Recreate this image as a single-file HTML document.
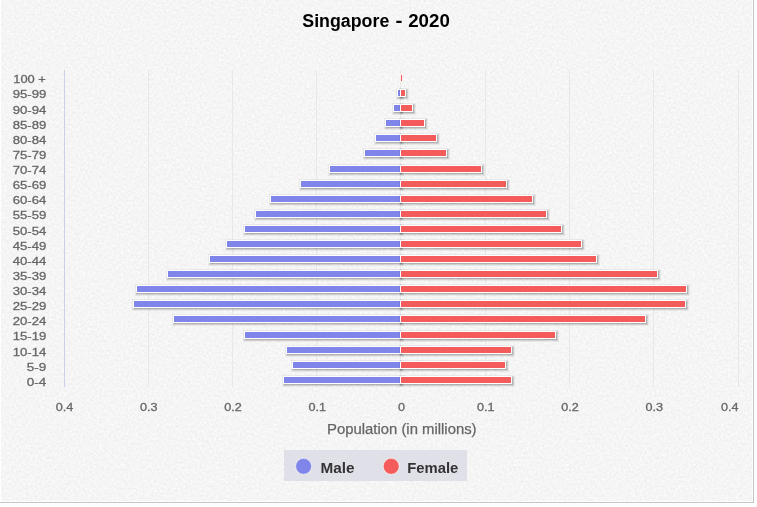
<!DOCTYPE html>
<html><head><meta charset="utf-8"><title>Singapore - 2020</title>
<style>
html,body{margin:0;padding:0;background:#fff;}
body{width:757px;height:507px;overflow:hidden;position:relative;}
#wrap{position:absolute;left:0;top:0;width:753px;height:502px;background:#fff;border-right:1px solid #c4c4c4;border-bottom:1px solid #c4c4c4;}
#chart{position:absolute;left:1px;top:0;width:751px;height:501px;background:#f5f5f5;}
svg{position:absolute;left:0;top:0;}
text{font-family:"Liberation Sans",sans-serif;}
.lab{font-size:11.7px;fill:#666;stroke:#666;stroke-width:0.3px;}
.ttl{font-size:18px;font-weight:bold;fill:#000;}
.axt{font-size:14.7px;fill:#666;stroke:#666;stroke-width:0.25px;}
.leg{font-size:14.7px;font-weight:bold;fill:#333;}
</style></head><body>
<div id="wrap"><div id="chart"></div></div>
<svg width="757" height="507" viewBox="0 0 757 507">

<defs><filter id="sand" x="0" y="0" width="100%" height="100%" color-interpolation-filters="sRGB"><feTurbulence type="fractalNoise" baseFrequency="0.42" numOctaves="2" seed="7" result="n"/><feColorMatrix in="n" type="matrix" values="0.085 0 0 0 0.918  0.085 0 0 0 0.918  0.085 0 0 0 0.918  0 0 0 0 1"/></filter></defs>
<rect x="1" y="0" width="751" height="501" fill="#f5f5f5" filter="url(#sand)"/>
<path d="M64.5 70V387" stroke="#e8e8e8" stroke-width="1" fill="none"/>
<path d="M148.5 70V387" stroke="#e8e8e8" stroke-width="1" fill="none"/>
<path d="M232.5 70V387" stroke="#e8e8e8" stroke-width="1" fill="none"/>
<path d="M316.5 70V387" stroke="#e8e8e8" stroke-width="1" fill="none"/>
<path d="M400.5 70V387" stroke="#e8e8e8" stroke-width="1" fill="none"/>
<path d="M485.5 70V387" stroke="#e8e8e8" stroke-width="1" fill="none"/>
<path d="M569.5 70V387" stroke="#e8e8e8" stroke-width="1" fill="none"/>
<path d="M653.5 70V387" stroke="#e8e8e8" stroke-width="1" fill="none"/>
<path d="M738.5 70V387" stroke="#e8e8e8" stroke-width="1" fill="none"/>
<path d="M64.5 70V387" stroke="#ccd0e6" stroke-width="1" fill="none"/>
<g>
<rect x="397.5" y="89.5" width="3" height="7" fill="none" stroke="#000" stroke-opacity="0.05" stroke-width="5" transform="translate(1,1)"/><rect x="397.5" y="89.5" width="3" height="7" fill="none" stroke="#000" stroke-opacity="0.1" stroke-width="3" transform="translate(1,1)"/><rect x="397.5" y="89.5" width="3" height="7" fill="none" stroke="#000" stroke-opacity="0.15" stroke-width="1" transform="translate(1,1)"/><rect x="397.5" y="89.5" width="3" height="7" fill="#8085e9" stroke="#fff" stroke-width="1"/>
<rect x="393.5" y="104.5" width="7" height="7" fill="none" stroke="#000" stroke-opacity="0.05" stroke-width="5" transform="translate(1,1)"/><rect x="393.5" y="104.5" width="7" height="7" fill="none" stroke="#000" stroke-opacity="0.1" stroke-width="3" transform="translate(1,1)"/><rect x="393.5" y="104.5" width="7" height="7" fill="none" stroke="#000" stroke-opacity="0.15" stroke-width="1" transform="translate(1,1)"/><rect x="393.5" y="104.5" width="7" height="7" fill="#8085e9" stroke="#fff" stroke-width="1"/>
<rect x="385.5" y="119.5" width="15" height="7" fill="none" stroke="#000" stroke-opacity="0.05" stroke-width="5" transform="translate(1,1)"/><rect x="385.5" y="119.5" width="15" height="7" fill="none" stroke="#000" stroke-opacity="0.1" stroke-width="3" transform="translate(1,1)"/><rect x="385.5" y="119.5" width="15" height="7" fill="none" stroke="#000" stroke-opacity="0.15" stroke-width="1" transform="translate(1,1)"/><rect x="385.5" y="119.5" width="15" height="7" fill="#8085e9" stroke="#fff" stroke-width="1"/>
<rect x="375.5" y="134.5" width="25" height="7" fill="none" stroke="#000" stroke-opacity="0.05" stroke-width="5" transform="translate(1,1)"/><rect x="375.5" y="134.5" width="25" height="7" fill="none" stroke="#000" stroke-opacity="0.1" stroke-width="3" transform="translate(1,1)"/><rect x="375.5" y="134.5" width="25" height="7" fill="none" stroke="#000" stroke-opacity="0.15" stroke-width="1" transform="translate(1,1)"/><rect x="375.5" y="134.5" width="25" height="7" fill="#8085e9" stroke="#fff" stroke-width="1"/>
<rect x="364.5" y="149.5" width="36" height="7" fill="none" stroke="#000" stroke-opacity="0.05" stroke-width="5" transform="translate(1,1)"/><rect x="364.5" y="149.5" width="36" height="7" fill="none" stroke="#000" stroke-opacity="0.1" stroke-width="3" transform="translate(1,1)"/><rect x="364.5" y="149.5" width="36" height="7" fill="none" stroke="#000" stroke-opacity="0.15" stroke-width="1" transform="translate(1,1)"/><rect x="364.5" y="149.5" width="36" height="7" fill="#8085e9" stroke="#fff" stroke-width="1"/>
<rect x="329.5" y="165.5" width="71" height="7" fill="none" stroke="#000" stroke-opacity="0.05" stroke-width="5" transform="translate(1,1)"/><rect x="329.5" y="165.5" width="71" height="7" fill="none" stroke="#000" stroke-opacity="0.1" stroke-width="3" transform="translate(1,1)"/><rect x="329.5" y="165.5" width="71" height="7" fill="none" stroke="#000" stroke-opacity="0.15" stroke-width="1" transform="translate(1,1)"/><rect x="329.5" y="165.5" width="71" height="7" fill="#8085e9" stroke="#fff" stroke-width="1"/>
<rect x="300.5" y="180.5" width="100" height="7" fill="none" stroke="#000" stroke-opacity="0.05" stroke-width="5" transform="translate(1,1)"/><rect x="300.5" y="180.5" width="100" height="7" fill="none" stroke="#000" stroke-opacity="0.1" stroke-width="3" transform="translate(1,1)"/><rect x="300.5" y="180.5" width="100" height="7" fill="none" stroke="#000" stroke-opacity="0.15" stroke-width="1" transform="translate(1,1)"/><rect x="300.5" y="180.5" width="100" height="7" fill="#8085e9" stroke="#fff" stroke-width="1"/>
<rect x="270.5" y="195.5" width="130" height="7" fill="none" stroke="#000" stroke-opacity="0.05" stroke-width="5" transform="translate(1,1)"/><rect x="270.5" y="195.5" width="130" height="7" fill="none" stroke="#000" stroke-opacity="0.1" stroke-width="3" transform="translate(1,1)"/><rect x="270.5" y="195.5" width="130" height="7" fill="none" stroke="#000" stroke-opacity="0.15" stroke-width="1" transform="translate(1,1)"/><rect x="270.5" y="195.5" width="130" height="7" fill="#8085e9" stroke="#fff" stroke-width="1"/>
<rect x="255.5" y="210.5" width="145" height="7" fill="none" stroke="#000" stroke-opacity="0.05" stroke-width="5" transform="translate(1,1)"/><rect x="255.5" y="210.5" width="145" height="7" fill="none" stroke="#000" stroke-opacity="0.1" stroke-width="3" transform="translate(1,1)"/><rect x="255.5" y="210.5" width="145" height="7" fill="none" stroke="#000" stroke-opacity="0.15" stroke-width="1" transform="translate(1,1)"/><rect x="255.5" y="210.5" width="145" height="7" fill="#8085e9" stroke="#fff" stroke-width="1"/>
<rect x="244.5" y="225.5" width="156" height="7" fill="none" stroke="#000" stroke-opacity="0.05" stroke-width="5" transform="translate(1,1)"/><rect x="244.5" y="225.5" width="156" height="7" fill="none" stroke="#000" stroke-opacity="0.1" stroke-width="3" transform="translate(1,1)"/><rect x="244.5" y="225.5" width="156" height="7" fill="none" stroke="#000" stroke-opacity="0.15" stroke-width="1" transform="translate(1,1)"/><rect x="244.5" y="225.5" width="156" height="7" fill="#8085e9" stroke="#fff" stroke-width="1"/>
<rect x="226.5" y="240.5" width="174" height="7" fill="none" stroke="#000" stroke-opacity="0.05" stroke-width="5" transform="translate(1,1)"/><rect x="226.5" y="240.5" width="174" height="7" fill="none" stroke="#000" stroke-opacity="0.1" stroke-width="3" transform="translate(1,1)"/><rect x="226.5" y="240.5" width="174" height="7" fill="none" stroke="#000" stroke-opacity="0.15" stroke-width="1" transform="translate(1,1)"/><rect x="226.5" y="240.5" width="174" height="7" fill="#8085e9" stroke="#fff" stroke-width="1"/>
<rect x="209.5" y="255.5" width="191" height="7" fill="none" stroke="#000" stroke-opacity="0.05" stroke-width="5" transform="translate(1,1)"/><rect x="209.5" y="255.5" width="191" height="7" fill="none" stroke="#000" stroke-opacity="0.1" stroke-width="3" transform="translate(1,1)"/><rect x="209.5" y="255.5" width="191" height="7" fill="none" stroke="#000" stroke-opacity="0.15" stroke-width="1" transform="translate(1,1)"/><rect x="209.5" y="255.5" width="191" height="7" fill="#8085e9" stroke="#fff" stroke-width="1"/>
<rect x="167.5" y="270.5" width="233" height="7" fill="none" stroke="#000" stroke-opacity="0.05" stroke-width="5" transform="translate(1,1)"/><rect x="167.5" y="270.5" width="233" height="7" fill="none" stroke="#000" stroke-opacity="0.1" stroke-width="3" transform="translate(1,1)"/><rect x="167.5" y="270.5" width="233" height="7" fill="none" stroke="#000" stroke-opacity="0.15" stroke-width="1" transform="translate(1,1)"/><rect x="167.5" y="270.5" width="233" height="7" fill="#8085e9" stroke="#fff" stroke-width="1"/>
<rect x="136.5" y="285.5" width="264" height="7" fill="none" stroke="#000" stroke-opacity="0.05" stroke-width="5" transform="translate(1,1)"/><rect x="136.5" y="285.5" width="264" height="7" fill="none" stroke="#000" stroke-opacity="0.1" stroke-width="3" transform="translate(1,1)"/><rect x="136.5" y="285.5" width="264" height="7" fill="none" stroke="#000" stroke-opacity="0.15" stroke-width="1" transform="translate(1,1)"/><rect x="136.5" y="285.5" width="264" height="7" fill="#8085e9" stroke="#fff" stroke-width="1"/>
<rect x="133.5" y="300.5" width="267" height="7" fill="none" stroke="#000" stroke-opacity="0.05" stroke-width="5" transform="translate(1,1)"/><rect x="133.5" y="300.5" width="267" height="7" fill="none" stroke="#000" stroke-opacity="0.1" stroke-width="3" transform="translate(1,1)"/><rect x="133.5" y="300.5" width="267" height="7" fill="none" stroke="#000" stroke-opacity="0.15" stroke-width="1" transform="translate(1,1)"/><rect x="133.5" y="300.5" width="267" height="7" fill="#8085e9" stroke="#fff" stroke-width="1"/>
<rect x="173.5" y="315.5" width="227" height="7" fill="none" stroke="#000" stroke-opacity="0.05" stroke-width="5" transform="translate(1,1)"/><rect x="173.5" y="315.5" width="227" height="7" fill="none" stroke="#000" stroke-opacity="0.1" stroke-width="3" transform="translate(1,1)"/><rect x="173.5" y="315.5" width="227" height="7" fill="none" stroke="#000" stroke-opacity="0.15" stroke-width="1" transform="translate(1,1)"/><rect x="173.5" y="315.5" width="227" height="7" fill="#8085e9" stroke="#fff" stroke-width="1"/>
<rect x="244.5" y="331.5" width="156" height="7" fill="none" stroke="#000" stroke-opacity="0.05" stroke-width="5" transform="translate(1,1)"/><rect x="244.5" y="331.5" width="156" height="7" fill="none" stroke="#000" stroke-opacity="0.1" stroke-width="3" transform="translate(1,1)"/><rect x="244.5" y="331.5" width="156" height="7" fill="none" stroke="#000" stroke-opacity="0.15" stroke-width="1" transform="translate(1,1)"/><rect x="244.5" y="331.5" width="156" height="7" fill="#8085e9" stroke="#fff" stroke-width="1"/>
<rect x="286.5" y="346.5" width="114" height="7" fill="none" stroke="#000" stroke-opacity="0.05" stroke-width="5" transform="translate(1,1)"/><rect x="286.5" y="346.5" width="114" height="7" fill="none" stroke="#000" stroke-opacity="0.1" stroke-width="3" transform="translate(1,1)"/><rect x="286.5" y="346.5" width="114" height="7" fill="none" stroke="#000" stroke-opacity="0.15" stroke-width="1" transform="translate(1,1)"/><rect x="286.5" y="346.5" width="114" height="7" fill="#8085e9" stroke="#fff" stroke-width="1"/>
<rect x="292.5" y="361.5" width="108" height="7" fill="none" stroke="#000" stroke-opacity="0.05" stroke-width="5" transform="translate(1,1)"/><rect x="292.5" y="361.5" width="108" height="7" fill="none" stroke="#000" stroke-opacity="0.1" stroke-width="3" transform="translate(1,1)"/><rect x="292.5" y="361.5" width="108" height="7" fill="none" stroke="#000" stroke-opacity="0.15" stroke-width="1" transform="translate(1,1)"/><rect x="292.5" y="361.5" width="108" height="7" fill="#8085e9" stroke="#fff" stroke-width="1"/>
<rect x="283.5" y="376.5" width="117" height="7" fill="none" stroke="#000" stroke-opacity="0.05" stroke-width="5" transform="translate(1,1)"/><rect x="283.5" y="376.5" width="117" height="7" fill="none" stroke="#000" stroke-opacity="0.1" stroke-width="3" transform="translate(1,1)"/><rect x="283.5" y="376.5" width="117" height="7" fill="none" stroke="#000" stroke-opacity="0.15" stroke-width="1" transform="translate(1,1)"/><rect x="283.5" y="376.5" width="117" height="7" fill="#8085e9" stroke="#fff" stroke-width="1"/>
</g><g>
<rect x="400.5" y="74.5" width="2" height="7" fill="#f45b5b" stroke="#fff" stroke-width="1" stroke-opacity="0.8"/>
<rect x="400.5" y="89.5" width="5" height="7" fill="none" stroke="#000" stroke-opacity="0.05" stroke-width="5" transform="translate(1,1)"/><rect x="400.5" y="89.5" width="5" height="7" fill="none" stroke="#000" stroke-opacity="0.1" stroke-width="3" transform="translate(1,1)"/><rect x="400.5" y="89.5" width="5" height="7" fill="none" stroke="#000" stroke-opacity="0.15" stroke-width="1" transform="translate(1,1)"/><rect x="400.5" y="89.5" width="5" height="7" fill="#f45b5b" stroke="#fff" stroke-width="1"/>
<rect x="400.5" y="104.5" width="12" height="7" fill="none" stroke="#000" stroke-opacity="0.05" stroke-width="5" transform="translate(1,1)"/><rect x="400.5" y="104.5" width="12" height="7" fill="none" stroke="#000" stroke-opacity="0.1" stroke-width="3" transform="translate(1,1)"/><rect x="400.5" y="104.5" width="12" height="7" fill="none" stroke="#000" stroke-opacity="0.15" stroke-width="1" transform="translate(1,1)"/><rect x="400.5" y="104.5" width="12" height="7" fill="#f45b5b" stroke="#fff" stroke-width="1"/>
<rect x="400.5" y="119.5" width="24" height="7" fill="none" stroke="#000" stroke-opacity="0.05" stroke-width="5" transform="translate(1,1)"/><rect x="400.5" y="119.5" width="24" height="7" fill="none" stroke="#000" stroke-opacity="0.1" stroke-width="3" transform="translate(1,1)"/><rect x="400.5" y="119.5" width="24" height="7" fill="none" stroke="#000" stroke-opacity="0.15" stroke-width="1" transform="translate(1,1)"/><rect x="400.5" y="119.5" width="24" height="7" fill="#f45b5b" stroke="#fff" stroke-width="1"/>
<rect x="400.5" y="134.5" width="36" height="7" fill="none" stroke="#000" stroke-opacity="0.05" stroke-width="5" transform="translate(1,1)"/><rect x="400.5" y="134.5" width="36" height="7" fill="none" stroke="#000" stroke-opacity="0.1" stroke-width="3" transform="translate(1,1)"/><rect x="400.5" y="134.5" width="36" height="7" fill="none" stroke="#000" stroke-opacity="0.15" stroke-width="1" transform="translate(1,1)"/><rect x="400.5" y="134.5" width="36" height="7" fill="#f45b5b" stroke="#fff" stroke-width="1"/>
<rect x="400.5" y="149.5" width="46" height="7" fill="none" stroke="#000" stroke-opacity="0.05" stroke-width="5" transform="translate(1,1)"/><rect x="400.5" y="149.5" width="46" height="7" fill="none" stroke="#000" stroke-opacity="0.1" stroke-width="3" transform="translate(1,1)"/><rect x="400.5" y="149.5" width="46" height="7" fill="none" stroke="#000" stroke-opacity="0.15" stroke-width="1" transform="translate(1,1)"/><rect x="400.5" y="149.5" width="46" height="7" fill="#f45b5b" stroke="#fff" stroke-width="1"/>
<rect x="400.5" y="165.5" width="81" height="7" fill="none" stroke="#000" stroke-opacity="0.05" stroke-width="5" transform="translate(1,1)"/><rect x="400.5" y="165.5" width="81" height="7" fill="none" stroke="#000" stroke-opacity="0.1" stroke-width="3" transform="translate(1,1)"/><rect x="400.5" y="165.5" width="81" height="7" fill="none" stroke="#000" stroke-opacity="0.15" stroke-width="1" transform="translate(1,1)"/><rect x="400.5" y="165.5" width="81" height="7" fill="#f45b5b" stroke="#fff" stroke-width="1"/>
<rect x="400.5" y="180.5" width="106" height="7" fill="none" stroke="#000" stroke-opacity="0.05" stroke-width="5" transform="translate(1,1)"/><rect x="400.5" y="180.5" width="106" height="7" fill="none" stroke="#000" stroke-opacity="0.1" stroke-width="3" transform="translate(1,1)"/><rect x="400.5" y="180.5" width="106" height="7" fill="none" stroke="#000" stroke-opacity="0.15" stroke-width="1" transform="translate(1,1)"/><rect x="400.5" y="180.5" width="106" height="7" fill="#f45b5b" stroke="#fff" stroke-width="1"/>
<rect x="400.5" y="195.5" width="132" height="7" fill="none" stroke="#000" stroke-opacity="0.05" stroke-width="5" transform="translate(1,1)"/><rect x="400.5" y="195.5" width="132" height="7" fill="none" stroke="#000" stroke-opacity="0.1" stroke-width="3" transform="translate(1,1)"/><rect x="400.5" y="195.5" width="132" height="7" fill="none" stroke="#000" stroke-opacity="0.15" stroke-width="1" transform="translate(1,1)"/><rect x="400.5" y="195.5" width="132" height="7" fill="#f45b5b" stroke="#fff" stroke-width="1"/>
<rect x="400.5" y="210.5" width="146" height="7" fill="none" stroke="#000" stroke-opacity="0.05" stroke-width="5" transform="translate(1,1)"/><rect x="400.5" y="210.5" width="146" height="7" fill="none" stroke="#000" stroke-opacity="0.1" stroke-width="3" transform="translate(1,1)"/><rect x="400.5" y="210.5" width="146" height="7" fill="none" stroke="#000" stroke-opacity="0.15" stroke-width="1" transform="translate(1,1)"/><rect x="400.5" y="210.5" width="146" height="7" fill="#f45b5b" stroke="#fff" stroke-width="1"/>
<rect x="400.5" y="225.5" width="161" height="7" fill="none" stroke="#000" stroke-opacity="0.05" stroke-width="5" transform="translate(1,1)"/><rect x="400.5" y="225.5" width="161" height="7" fill="none" stroke="#000" stroke-opacity="0.1" stroke-width="3" transform="translate(1,1)"/><rect x="400.5" y="225.5" width="161" height="7" fill="none" stroke="#000" stroke-opacity="0.15" stroke-width="1" transform="translate(1,1)"/><rect x="400.5" y="225.5" width="161" height="7" fill="#f45b5b" stroke="#fff" stroke-width="1"/>
<rect x="400.5" y="240.5" width="181" height="7" fill="none" stroke="#000" stroke-opacity="0.05" stroke-width="5" transform="translate(1,1)"/><rect x="400.5" y="240.5" width="181" height="7" fill="none" stroke="#000" stroke-opacity="0.1" stroke-width="3" transform="translate(1,1)"/><rect x="400.5" y="240.5" width="181" height="7" fill="none" stroke="#000" stroke-opacity="0.15" stroke-width="1" transform="translate(1,1)"/><rect x="400.5" y="240.5" width="181" height="7" fill="#f45b5b" stroke="#fff" stroke-width="1"/>
<rect x="400.5" y="255.5" width="196" height="7" fill="none" stroke="#000" stroke-opacity="0.05" stroke-width="5" transform="translate(1,1)"/><rect x="400.5" y="255.5" width="196" height="7" fill="none" stroke="#000" stroke-opacity="0.1" stroke-width="3" transform="translate(1,1)"/><rect x="400.5" y="255.5" width="196" height="7" fill="none" stroke="#000" stroke-opacity="0.15" stroke-width="1" transform="translate(1,1)"/><rect x="400.5" y="255.5" width="196" height="7" fill="#f45b5b" stroke="#fff" stroke-width="1"/>
<rect x="400.5" y="270.5" width="257" height="7" fill="none" stroke="#000" stroke-opacity="0.05" stroke-width="5" transform="translate(1,1)"/><rect x="400.5" y="270.5" width="257" height="7" fill="none" stroke="#000" stroke-opacity="0.1" stroke-width="3" transform="translate(1,1)"/><rect x="400.5" y="270.5" width="257" height="7" fill="none" stroke="#000" stroke-opacity="0.15" stroke-width="1" transform="translate(1,1)"/><rect x="400.5" y="270.5" width="257" height="7" fill="#f45b5b" stroke="#fff" stroke-width="1"/>
<rect x="400.5" y="285.5" width="286" height="7" fill="none" stroke="#000" stroke-opacity="0.05" stroke-width="5" transform="translate(1,1)"/><rect x="400.5" y="285.5" width="286" height="7" fill="none" stroke="#000" stroke-opacity="0.1" stroke-width="3" transform="translate(1,1)"/><rect x="400.5" y="285.5" width="286" height="7" fill="none" stroke="#000" stroke-opacity="0.15" stroke-width="1" transform="translate(1,1)"/><rect x="400.5" y="285.5" width="286" height="7" fill="#f45b5b" stroke="#fff" stroke-width="1"/>
<rect x="400.5" y="300.5" width="285" height="7" fill="none" stroke="#000" stroke-opacity="0.05" stroke-width="5" transform="translate(1,1)"/><rect x="400.5" y="300.5" width="285" height="7" fill="none" stroke="#000" stroke-opacity="0.1" stroke-width="3" transform="translate(1,1)"/><rect x="400.5" y="300.5" width="285" height="7" fill="none" stroke="#000" stroke-opacity="0.15" stroke-width="1" transform="translate(1,1)"/><rect x="400.5" y="300.5" width="285" height="7" fill="#f45b5b" stroke="#fff" stroke-width="1"/>
<rect x="400.5" y="315.5" width="245" height="7" fill="none" stroke="#000" stroke-opacity="0.05" stroke-width="5" transform="translate(1,1)"/><rect x="400.5" y="315.5" width="245" height="7" fill="none" stroke="#000" stroke-opacity="0.1" stroke-width="3" transform="translate(1,1)"/><rect x="400.5" y="315.5" width="245" height="7" fill="none" stroke="#000" stroke-opacity="0.15" stroke-width="1" transform="translate(1,1)"/><rect x="400.5" y="315.5" width="245" height="7" fill="#f45b5b" stroke="#fff" stroke-width="1"/>
<rect x="400.5" y="331.5" width="155" height="7" fill="none" stroke="#000" stroke-opacity="0.05" stroke-width="5" transform="translate(1,1)"/><rect x="400.5" y="331.5" width="155" height="7" fill="none" stroke="#000" stroke-opacity="0.1" stroke-width="3" transform="translate(1,1)"/><rect x="400.5" y="331.5" width="155" height="7" fill="none" stroke="#000" stroke-opacity="0.15" stroke-width="1" transform="translate(1,1)"/><rect x="400.5" y="331.5" width="155" height="7" fill="#f45b5b" stroke="#fff" stroke-width="1"/>
<rect x="400.5" y="346.5" width="111" height="7" fill="none" stroke="#000" stroke-opacity="0.05" stroke-width="5" transform="translate(1,1)"/><rect x="400.5" y="346.5" width="111" height="7" fill="none" stroke="#000" stroke-opacity="0.1" stroke-width="3" transform="translate(1,1)"/><rect x="400.5" y="346.5" width="111" height="7" fill="none" stroke="#000" stroke-opacity="0.15" stroke-width="1" transform="translate(1,1)"/><rect x="400.5" y="346.5" width="111" height="7" fill="#f45b5b" stroke="#fff" stroke-width="1"/>
<rect x="400.5" y="361.5" width="105" height="7" fill="none" stroke="#000" stroke-opacity="0.05" stroke-width="5" transform="translate(1,1)"/><rect x="400.5" y="361.5" width="105" height="7" fill="none" stroke="#000" stroke-opacity="0.1" stroke-width="3" transform="translate(1,1)"/><rect x="400.5" y="361.5" width="105" height="7" fill="none" stroke="#000" stroke-opacity="0.15" stroke-width="1" transform="translate(1,1)"/><rect x="400.5" y="361.5" width="105" height="7" fill="#f45b5b" stroke="#fff" stroke-width="1"/>
<rect x="400.5" y="376.5" width="111" height="7" fill="none" stroke="#000" stroke-opacity="0.05" stroke-width="5" transform="translate(1,1)"/><rect x="400.5" y="376.5" width="111" height="7" fill="none" stroke="#000" stroke-opacity="0.1" stroke-width="3" transform="translate(1,1)"/><rect x="400.5" y="376.5" width="111" height="7" fill="none" stroke="#000" stroke-opacity="0.15" stroke-width="1" transform="translate(1,1)"/><rect x="400.5" y="376.5" width="111" height="7" fill="#f45b5b" stroke="#fff" stroke-width="1"/>
</g>
<text class="lab" text-anchor="end" transform="translate(45.8,83.2) scale(1.1,1)">100 +</text>
<text class="lab" text-anchor="end" transform="translate(46.3,98.3) scale(1.125,1)">95-99</text>
<text class="lab" text-anchor="end" transform="translate(46.3,113.5) scale(1.125,1)">90-94</text>
<text class="lab" text-anchor="end" transform="translate(46.3,128.6) scale(1.125,1)">85-89</text>
<text class="lab" text-anchor="end" transform="translate(46.3,143.7) scale(1.125,1)">80-84</text>
<text class="lab" text-anchor="end" transform="translate(46.3,158.9) scale(1.125,1)">75-79</text>
<text class="lab" text-anchor="end" transform="translate(46.3,174.0) scale(1.125,1)">70-74</text>
<text class="lab" text-anchor="end" transform="translate(46.3,189.1) scale(1.125,1)">65-69</text>
<text class="lab" text-anchor="end" transform="translate(46.3,204.2) scale(1.125,1)">60-64</text>
<text class="lab" text-anchor="end" transform="translate(46.3,219.4) scale(1.125,1)">55-59</text>
<text class="lab" text-anchor="end" transform="translate(46.3,234.5) scale(1.125,1)">50-54</text>
<text class="lab" text-anchor="end" transform="translate(46.3,249.6) scale(1.125,1)">45-49</text>
<text class="lab" text-anchor="end" transform="translate(46.3,264.8) scale(1.125,1)">40-44</text>
<text class="lab" text-anchor="end" transform="translate(46.3,279.9) scale(1.125,1)">35-39</text>
<text class="lab" text-anchor="end" transform="translate(46.3,295.0) scale(1.125,1)">30-34</text>
<text class="lab" text-anchor="end" transform="translate(46.3,310.2) scale(1.125,1)">25-29</text>
<text class="lab" text-anchor="end" transform="translate(46.3,325.3) scale(1.125,1)">20-24</text>
<text class="lab" text-anchor="end" transform="translate(46.3,340.4) scale(1.125,1)">15-19</text>
<text class="lab" text-anchor="end" transform="translate(46.3,355.5) scale(1.125,1)">10-14</text>
<text class="lab" text-anchor="end" transform="translate(46.3,370.7) scale(1.15,1)">5-9</text>
<text class="lab" text-anchor="end" transform="translate(46.3,385.8) scale(1.15,1)">0-4</text>
<text class="lab" text-anchor="middle" transform="translate(64.5,410.9) scale(1.08,1)">0.4</text>
<text class="lab" text-anchor="middle" transform="translate(148.8,410.9) scale(1.08,1)">0.3</text>
<text class="lab" text-anchor="middle" transform="translate(233.0,410.9) scale(1.08,1)">0.2</text>
<text class="lab" text-anchor="middle" transform="translate(317.2,410.9) scale(1.08,1)">0.1</text>
<text class="lab" text-anchor="middle" transform="translate(401.5,410.9) scale(1.08,1)">0</text>
<text class="lab" text-anchor="middle" transform="translate(485.8,410.9) scale(1.08,1)">0.1</text>
<text class="lab" text-anchor="middle" transform="translate(570.0,410.9) scale(1.08,1)">0.2</text>
<text class="lab" text-anchor="middle" transform="translate(654.2,410.9) scale(1.08,1)">0.3</text>
<text class="lab" text-anchor="middle" transform="translate(729.7,410.9) scale(1.08,1)">0.4</text>
<text class="axt" text-anchor="middle" x="401.8" y="434.1" textLength="149.5" lengthAdjust="spacingAndGlyphs">Population (in millions)</text>
<text class="ttl" y="27.4"><tspan x="302.3" textLength="87" lengthAdjust="spacingAndGlyphs">Singapore</tspan><tspan x="390.5"> </tspan><tspan x="395.6" textLength="7" lengthAdjust="spacingAndGlyphs">-</tspan><tspan x="403"> </tspan><tspan x="408.2" textLength="41.6" lengthAdjust="spacingAndGlyphs">2020</tspan></text>
<rect x="284" y="450" width="183" height="31" fill="#e0e0e8"/>
<circle cx="303.6" cy="466.3" r="8" fill="#8085e9" stroke="#fff" stroke-width="1" stroke-opacity="0.6"/>
<circle cx="391.2" cy="466.3" r="8" fill="#f45b5b" stroke="#fff" stroke-width="1" stroke-opacity="0.6"/>
<text class="leg" x="320.5" y="473.4" textLength="34" lengthAdjust="spacingAndGlyphs">Male</text>
<text class="leg" x="407.3" y="473.4" textLength="51" lengthAdjust="spacingAndGlyphs">Female</text>
</svg></body></html>
